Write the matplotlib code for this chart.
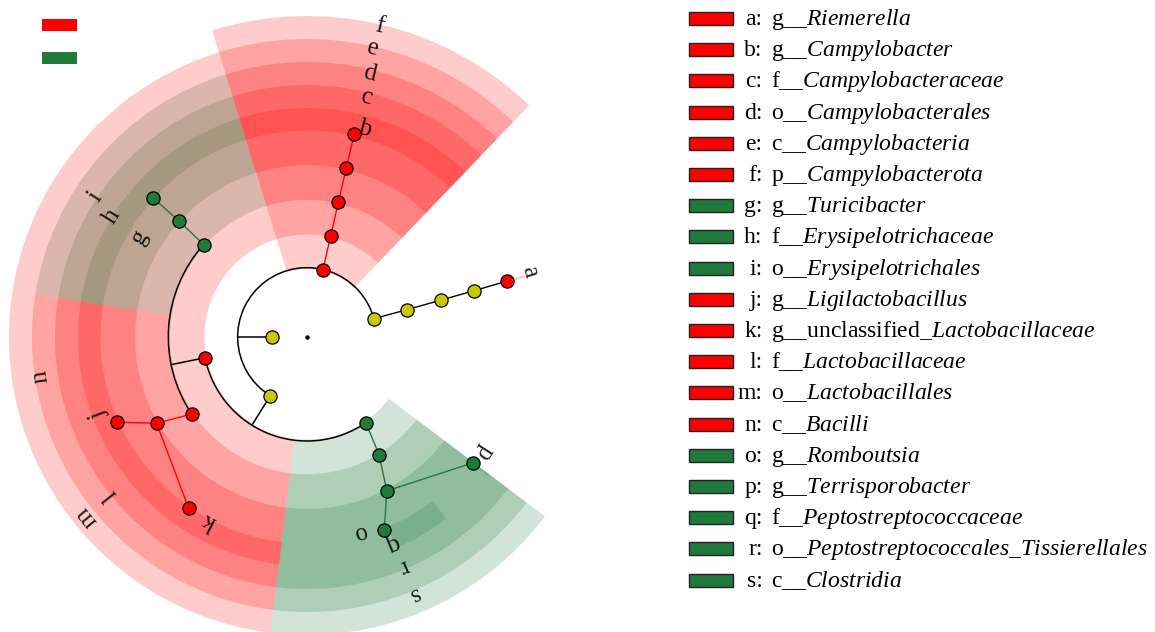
import matplotlib.pyplot as plt
import numpy as np
from matplotlib.patches import Arc, Rectangle, Wedge

plt.rcParams["font.family"] = ["Liberation Serif", "DejaVu Serif"]
plt.rcParams["mathtext.fontset"] = "custom"
plt.rcParams["mathtext.rm"] = "Liberation Serif"
plt.rcParams["mathtext.it"] = "Liberation Serif:italic"

# cladogram nodes (level: 1 kingdom .. 6 genus), angles
node_name = [
    "Bacteria", "Bacteroidota", "Bacteroidia", "Flavobacteriales", "Weeksellaceae",
    "Riemerella", "Campylobacterota", "Campylobacteria", "Campylobacterales",
    "Campylobacteraceae", "Campylobacter", "Firmicutes", "Bacilli",
    "Erysipelotrichales", "Erysipelotrichaceae", "Turicibacter", "Lactobacillales",
    "Lactobacillaceae", "Ligilactobacillus", "unclassified_Lactobacillaceae",
    "Clostridia", "Peptostreptococcales_Tissierellales", "Peptostreptococcaceae",
    "Romboutsia", "Terrisporobacter",
]
node_parent = [-1, 0, 1, 2, 3, 4, 0, 6, 7, 8, 9, 0, 11, 12, 13, 14, 12, 16, 17, 17, 11, 20, 21, 22, 22]
node_level = [1, 2, 3, 4, 5, 6, 2, 3, 4, 5, 6, 2, 3, 4, 5, 6, 4, 5, 6, 6, 3, 4, 5, 6, 6]
node_angle = [180, 15.3, 15.3, 15.4, 15.5, 15.6, 76.7, 76.8, 76.9, 76.9, 76.9, 238, 191.5,
              138.2, 137.8, 137.9, 213.8, 209.8, 204.2, 235.3, 304.5, 301.4, 297.4, 291.8, 322.75]
node_group = ["ns", "ns", "ns", "ns", "ns", "A", "A", "A", "A", "A", "A", "ns", "A",
              "B", "B", "B", "A", "A", "A", "A", "B", "B", "B", "B", "B"]
node_letter = ["", "", "", "", "", "a", "f", "e", "d", "c", "b", "", "n",
               "i", "h", "g", "m", "l", "j", "k", "s", "r", "q", "o", "p"]

# angular span (deg) of the shaded sector of each biomarker clade
clade_span = {
    "a": (15.2, 15.9), "b": (46.2, 107.2), "c": (46.2, 107.2), "d": (46.2, 107.2),
    "e": (46.2, 107.2), "f": (46.2, 107.2), "g": (107.2, 171.1), "h": (107.2, 171.1),
    "i": (107.2, 171.1), "j": (171.1, 219.6), "k": (219.6, 263), "l": (171.1, 263),
    "m": (171.1, 263), "n": (107.2, 263), "o": (293, 307.5), "p": (322.4, 323),
    "q": (263, 323), "r": (263, 323), "s": (263, 323),
}

RANKS = {2: "p", 3: "c", 4: "o", 5: "f", 6: "g"}
COLORS = {"A": "#ff0000", "B": "#1f7a3c", "ns": "#c8c800"}

# layout (pixels)
STEP = 34.67
OUTER = {2: 321, 3: 298, 4: 275, 5: 252, 6: 229}
LABEL_POS = {
    "a": (234, 16.5), "b": (218, 74.6), "c": (249, 75.9), "d": (273, 76.7),
    "e": (298, 77.2), "f": (322, 76.9), "g": (197, 149.2), "h": (231.6, 148.3),
    "i": (256.4, 146.5), "j": (224, 200.5), "k": (211, 242), "l": (255, 218.8),
    "m": (287, 219.3), "n": (272, 188.4), "o": (205, 285), "p": (214, 327),
    "q": (226.4, 292.4), "r": (251.5, 293), "s": (281.3, 292.6),
}
CX, CY = 307, 337


def xy(r, deg):
    t = np.deg2rad(deg)
    return r * np.cos(t), r * np.sin(t)


def radius(level):
    return STEP * level


fig = plt.figure(figsize=(11.55, 6.32), dpi=100)
ax = fig.add_axes([0, 0, 1, 1])
ax.set_xlim(-CX, 1155 - CX)
ax.set_ylim(CY - 632, CY)
ax.axis("off")

# shaded clades, deepest level first
n = len(node_name)
for i in sorted(range(n), key=lambda k: -node_level[k]):
    let = node_letter[i]
    if not let:
        continue
    a0, a1 = clade_span[let]
    r_in = radius(node_level[i]) - 1.5
    r_out = OUTER[node_level[i]]
    ax.add_patch(Wedge((0, 0), r_out, a0, a1, width=r_out - r_in,
                       facecolor=COLORS[node_group[i]], alpha=0.2, lw=0, zorder=1))

# branches
for p in range(n):
    kids = [c for c in range(n) if node_parent[c] == p]
    if not kids:
        continue
    rp = radius(node_level[p])
    rc = radius(node_level[p] + 1)
    if node_level[p] <= 3 and len(kids) > 1:
        x0, y0 = xy(rp, node_angle[p])
        x1, y1 = xy(rc, node_angle[p])
        ax.plot([x0, x1], [y0, y1], color="black", lw=1.1, zorder=2)
        angs = [node_angle[c] for c in kids]
        ax.add_patch(Arc((0, 0), 2 * rc, 2 * rc, theta1=min(angs), theta2=max(angs),
                         color="black", lw=1.1, zorder=2))
    else:
        for c in kids:
            x0, y0 = xy(rp, node_angle[p])
            x1, y1 = xy(rc, node_angle[c])
            same = node_group[p] == node_group[c] and node_group[p] != "ns"
            ax.plot([x0, x1], [y0, y1], color=COLORS[node_group[p]] if same else "black",
                    lw=1.0, zorder=2)

# nodes
for i in range(n):
    x, y = xy(radius(node_level[i]), node_angle[i])
    ax.plot(x, y, "o", ms=9.5, mfc=COLORS[node_group[i]], mec="black", mew=0.9, zorder=3)
ax.plot(0, 0, "o", ms=2.2, color="black", zorder=3)

# clade letters
for let, (r, th) in LABEL_POS.items():
    x, y = xy(r, th)
    ax.text(x, y, let, rotation=th - 90, rotation_mode="anchor", ha="center",
            va="center_baseline", fontsize=18, color="black", alpha=0.88, zorder=4)

# group colour keys (top left)
for k, g in enumerate(["A", "B"]):
    ax.add_patch(Rectangle((42 - CX, CY - 31 - 32.5 * k), 35, 12, facecolor=COLORS[g],
                           lw=0, zorder=4))


def fmt_name(name):
    parts = []
    for part in name.split("_"):
        parts.append(part if part == "unclassified" else r"$\mathit{" + part + "}$")
    return "_".join(parts)


# biomarker legend (right)
rows = sorted([i for i in range(n) if node_letter[i]], key=lambda i: node_letter[i])
for k, i in enumerate(rows):
    yb = CY - (25 + 31.2 * k)
    ax.add_patch(Rectangle((689 - CX, yb), 44, 13, facecolor=COLORS[node_group[i]],
                           edgecolor="#222222", lw=1.0, zorder=4))
    ax.text(762.5 - CX, yb, node_letter[i] + ":", ha="right", va="baseline", fontsize=17)
    ax.text(771 - CX, yb, RANKS[node_level[i]] + "__" + fmt_name(node_name[i]),
            ha="left", va="baseline", fontsize=17)

fig.savefig("out.png", dpi=100)
